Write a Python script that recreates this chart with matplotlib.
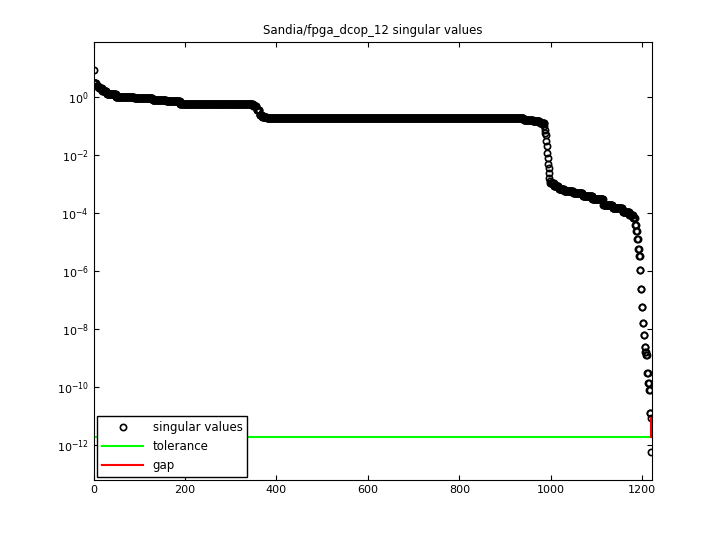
import numpy as np
import matplotlib
matplotlib.use("Agg")
import matplotlib.pyplot as plt

# plateau counts and singular values
counts = [1, 5, 5, 8, 10, 20, 40, 40, 30, 30, 160, 8, 6, 6, 10, 562, 20, 15, 10,
          1, 1, 1, 1, 1, 1, 1, 1, 1, 1, 1, 1, 1,
          8, 10, 12, 20, 21, 21, 24, 20, 22, 15, 8, 5,
          2, 2, 2, 2, 2, 2, 2, 2, 2, 2, 2, 2, 2, 2, 2, 2, 2, 1, 1]
values = [8.5, 3.0, 2.5, 2.0, 1.6, 1.3, 1.05, 0.95, 0.8, 0.72, 0.6, 0.5, 0.35, 0.25, 0.2, 0.19, 0.17, 0.15, 0.13,
          0.1, 0.072, 0.06, 0.05, 0.03, 0.02, 0.012, 0.008, 0.005, 0.0035, 0.0024, 0.0016, 0.0013,
          1.1e-3, 9e-4, 7e-4, 6e-4, 5e-4, 4e-4, 3e-4, 2e-4, 1.5e-4, 1.1e-4, 9e-5, 7e-5,
          4e-5, 2.5e-5, 1.3e-5, 6e-6, 3.3e-6, 1.1e-6, 2.4e-7, 5.8e-8, 1.7e-8, 6.2e-9,
          2.4e-9, 1.6e-9, 1.3e-9, 3e-10, 1.4e-10, 7.9e-11, 1.3e-11, 8.5e-12, 5.7e-13]
tolerance = 2e-12
title = "Sandia/fpga_dcop_12 singular values"

sv = np.concatenate([np.full(c, v) for c, v in zip(counts, values)])
idx = np.arange(len(sv))
n = len(sv)

fig = plt.figure(figsize=(7.2, 5.4), dpi=100)
ax = fig.add_axes([0.13, 0.111, 0.776, 0.811])
ax.semilogy(idx, sv, 'o', mfc='none', mec='black', ms=4.5, mew=1.2, label='singular values')
ax.plot([0, n], [tolerance, tolerance], color='#00ff00', lw=1.5, label='tolerance')
gi = np.where(sv > tolerance)[0][-1]
ax.plot([gi, gi], [sv[gi], tolerance], color='red', lw=1.5, label='gap')
ax.set_xlim(0, 1222)
ax.set_ylim(10**-13.2, 10**1.9)
ax.set_yticks([10.0**k for k in range(-12, 1, 2)])
ax.set_yticklabels([r'$10^{%d}$' % k for k in range(-12, 1, 2)])
ax.yaxis.set_minor_locator(matplotlib.ticker.NullLocator())
ax.set_xticks([0, 200, 400, 600, 800, 1000, 1200])
ax.tick_params(labelsize=8, direction='in', top=True, right=True)
ax.set_title(title, fontsize=8.5)
leg = ax.legend(loc='lower left', fontsize=8.5, fancybox=False, edgecolor='black',
                framealpha=1, borderaxespad=0.3, handlelength=3.5)
fig.savefig("out.png")
